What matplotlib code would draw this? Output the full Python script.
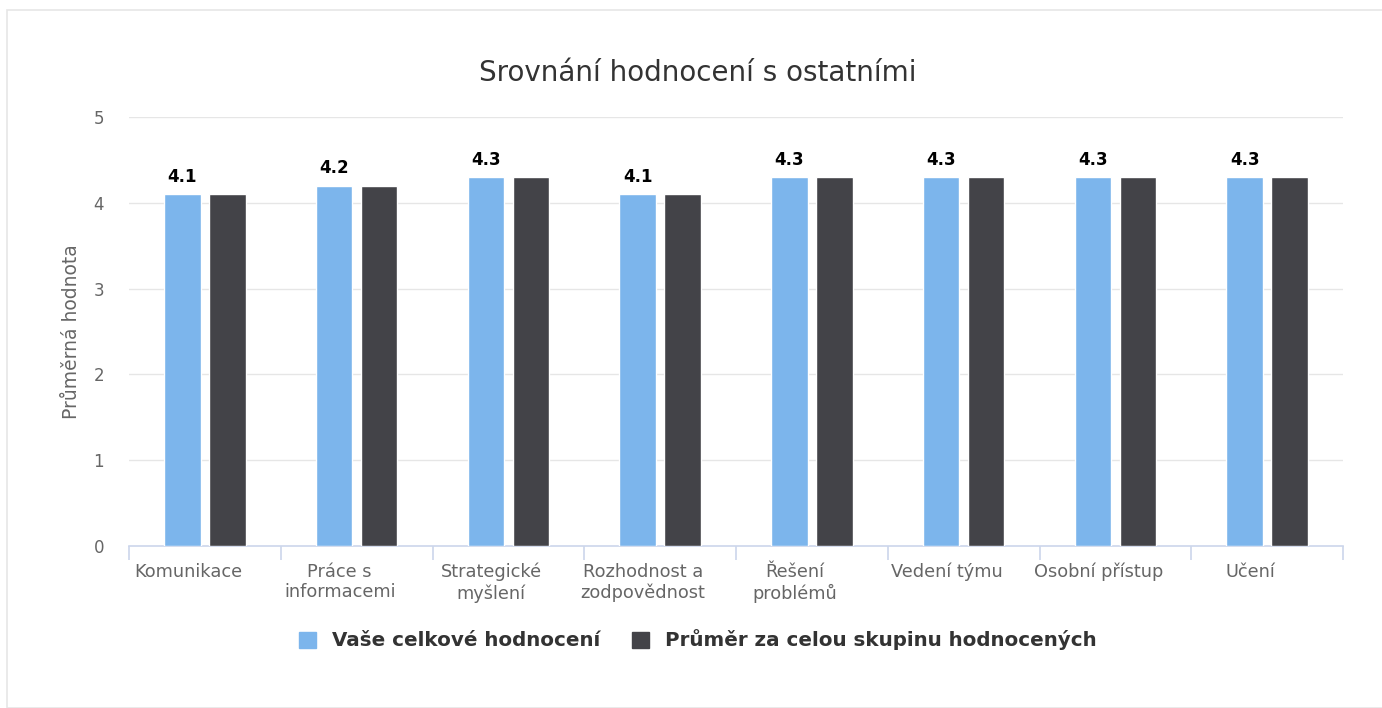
import matplotlib
matplotlib.use("Agg")
import matplotlib.pyplot as plt
import matplotlib.transforms as mtransforms
from matplotlib.patches import Rectangle
import numpy as np

plt.rcParams['font.family'] = ['DejaVu Sans']

categories = ["Komunikace", "Práce s\ninformacemi", "Strategické\nmyšlení",
              "Rozhodnost a\nzodpovědnost", "Řešení\nproblémů", "Vedení týmu",
              "Osobní přístup", "Učení"]
vase = [4.1, 4.2, 4.3, 4.1, 4.3, 4.3, 4.3, 4.3]
prumer = [4.1, 4.2, 4.3, 4.1, 4.3, 4.3, 4.3, 4.3]
series_names = ["Vaše celkové hodnocení", "Průměr za celou skupinu hodnocených"]
y_ticks = [0, 1, 2, 3, 4, 5]

W, H = 1382, 708
fig = plt.figure(figsize=(W / 100, H / 100), dpi=100)
fig.patch.set_facecolor('white')

# outer border
fig.add_artist(Rectangle((6.5 / W, 0), 1 - 6.5 / W + 0.01, 1 - 9.5 / H,
                         transform=fig.transFigure, fill=False,
                         edgecolor='#e6e6e6', linewidth=1.2))

left, right = 129 / W, 1343 / W
bottom, top = 1 - 546 / H, 1 - 117 / H
ax = fig.add_axes([left, bottom, right - left, top - bottom])

x = np.arange(len(categories))
bw = 0.24
off = 0.148
c1, c2 = '#7cb5ec', '#434348'
ax.bar(x - off, vase, width=bw, color=c1, edgecolor='white', linewidth=1, zorder=3)
ax.bar(x + off, prumer, width=bw, color=c2, edgecolor='white', linewidth=1, zorder=3)

for xi, v in zip(x, vase):
    ax.annotate(f"{v:.1f}", (xi - off, v), xytext=(0, 6), textcoords='offset points',
                ha='center', va='bottom', fontsize=12, fontweight='bold', color='black')

ax.set_xlim(-0.5, len(categories) - 0.5)
ax.set_ylim(0, 5)
ax.set_yticks(y_ticks)
ax.set_yticklabels([str(t) for t in y_ticks])
for y in y_ticks[1:]:
    ax.axhline(y, color='#e6e6e6', linewidth=1, zorder=1)

for s in ['top', 'right', 'left']:
    ax.spines[s].set_visible(False)
ax.spines['bottom'].set_color('#ccd6eb')
ax.spines['bottom'].set_linewidth(1.2)

ax.tick_params(axis='y', length=0, pad=18, labelsize=12, labelcolor='#666666')
# category ticks at boundaries
ax.set_xticks(np.arange(-0.5, len(categories), 1.0), minor=False)
ax.set_xticklabels([''] * (len(categories) + 1))
ax.tick_params(axis='x', which='major', length=10, width=1.2, color='#ccd6eb', direction='out')
ax.set_xticks(x, minor=True)
ax.set_xticklabels(categories, minor=True)
ax.tick_params(axis='x', which='minor', length=0, pad=12, labelsize=12.8, labelcolor='#666666')
shift = mtransforms.ScaledTranslation(-17 / 100, 0, fig.dpi_scale_trans)
for lbl in ax.get_xticklabels(minor=True):
    lbl.set_linespacing(1.2)
    lbl.set_transform(lbl.get_transform() + shift)

ax.set_ylabel("Průměrná hodnota", fontsize=13.5, color='#666666', labelpad=9)

fig.text(0.505, 1 - 73 / H, "Srovnání hodnocení s ostatními", ha='center', va='center',
         fontsize=20, color='#333333')

handles = [Rectangle((0, 0), 1, 1, color=c1), Rectangle((0, 0), 1, 1, color=c2)]
leg = fig.legend(handles, series_names, loc='center', bbox_to_anchor=(0.505, 1 - 640 / H),
                 ncol=2, frameon=False, handlelength=0.85, handleheight=0.85,
                 handletextpad=0.8, columnspacing=1.6,
                 prop={'weight': 'bold', 'size': 14.3})
for t in leg.get_texts():
    t.set_color('#333333')

fig.savefig("out.png", dpi=100)
